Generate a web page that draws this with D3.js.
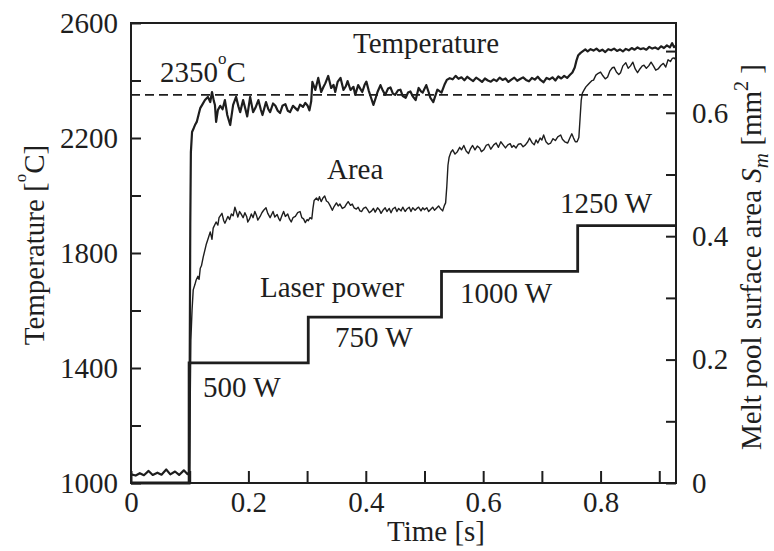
<!DOCTYPE html>
<html>
<head>
<meta charset="utf-8">
<script src="https://cdn.jsdelivr.net/npm/d3@7"></script>
<style>
  body { margin: 0; background: #fff; }
  svg { display: block; }
  text { font-family: "Liberation Serif", "Times New Roman", serif; fill: #1e1e1e; }
</style>
</head>
<body>
<svg id="chart"></svg>
<script>
// tick values
const timeTicks = [0, 0.1, 0.2, 0.3, 0.4, 0.5, 0.6, 0.7, 0.8, 0.9];
const tempTicks = [1000, 1200, 1400, 1600, 1800, 2000, 2200, 2400, 2600];
const areaTicks = [0, 0.1, 0.2, 0.3, 0.4, 0.5, 0.6, 0.7];

// measured temperature [s, degC]
const temperature = [
  [0, 1030], [0.008, 1026], [0.015, 1034], [0.022, 1027], [0.03, 1042], [0.037, 1028], [0.045, 1036],
  [0.052, 1029], [0.06, 1047], [0.067, 1030], [0.075, 1040], [0.082, 1028], [0.09, 1044], [0.096, 1031],
  [0.099, 1036], [0.1, 1400], [0.101, 1900], [0.102, 2150], [0.104, 2221], [0.107, 2235], [0.109, 2245],
  [0.112, 2256], [0.115, 2280], [0.118, 2304], [0.122, 2318], [0.126, 2332], [0.131, 2343], [0.135, 2325],
  [0.138, 2360], [0.141, 2330], [0.143, 2315], [0.145, 2256], [0.148, 2297], [0.152, 2312], [0.156, 2300],
  [0.16, 2332], [0.164, 2280], [0.169, 2245], [0.174, 2315], [0.179, 2343], [0.183, 2310], [0.186, 2290],
  [0.191, 2332], [0.195, 2300], [0.198, 2275], [0.203, 2343], [0.208, 2290], [0.212, 2305], [0.217, 2332],
  [0.221, 2300], [0.224, 2280], [0.23, 2325], [0.234, 2300], [0.237, 2290], [0.242, 2320], [0.246, 2312],
  [0.25, 2295], [0.254, 2287], [0.258, 2312], [0.263, 2318], [0.267, 2295], [0.271, 2290], [0.276, 2312],
  [0.28, 2304], [0.284, 2296], [0.288, 2316], [0.293, 2308], [0.297, 2322], [0.301, 2312], [0.304, 2296],
  [0.307, 2328], [0.309, 2395], [0.314, 2367], [0.319, 2409], [0.324, 2360], [0.328, 2378], [0.331, 2390],
  [0.336, 2416], [0.341, 2374], [0.345, 2385], [0.348, 2360], [0.352, 2395], [0.357, 2409], [0.362, 2367],
  [0.366, 2380], [0.369, 2398], [0.374, 2367], [0.379, 2378], [0.382, 2350], [0.387, 2384], [0.391, 2370],
  [0.394, 2360], [0.398, 2385], [0.401, 2396], [0.405, 2365], [0.408, 2346], [0.413, 2315], [0.417, 2340],
  [0.42, 2360], [0.425, 2384], [0.429, 2365], [0.433, 2350], [0.438, 2372], [0.442, 2376], [0.446, 2355],
  [0.45, 2350], [0.455, 2366], [0.459, 2368], [0.463, 2346], [0.468, 2340], [0.472, 2358], [0.476, 2362],
  [0.48, 2345], [0.485, 2332], [0.49, 2374], [0.494, 2362], [0.497, 2358], [0.503, 2384], [0.507, 2360],
  [0.51, 2340], [0.515, 2325], [0.519, 2350], [0.522, 2368], [0.526, 2362], [0.529, 2358], [0.534, 2385],
  [0.538, 2402], [0.543, 2408], [0.548, 2404], [0.553, 2416], [0.558, 2406], [0.563, 2411], [0.568, 2401],
  [0.573, 2413], [0.578, 2405], [0.583, 2398], [0.588, 2410], [0.593, 2403], [0.598, 2395], [0.603, 2407],
  [0.608, 2400], [0.613, 2396], [0.618, 2404], [0.623, 2398], [0.628, 2410], [0.633, 2402], [0.638, 2407],
  [0.643, 2395], [0.648, 2403], [0.653, 2410], [0.658, 2399], [0.663, 2405], [0.668, 2411], [0.673, 2402],
  [0.678, 2397], [0.683, 2409], [0.688, 2403], [0.693, 2413], [0.698, 2401], [0.703, 2394], [0.708, 2409],
  [0.713, 2404], [0.718, 2411], [0.723, 2400], [0.728, 2414], [0.733, 2407], [0.738, 2416], [0.743, 2409],
  [0.748, 2420], [0.752, 2428], [0.756, 2445], [0.759, 2470], [0.762, 2488], [0.766, 2496], [0.77, 2502],
  [0.774, 2508], [0.778, 2501], [0.783, 2509], [0.788, 2504], [0.793, 2511], [0.798, 2502], [0.803, 2507],
  [0.808, 2499], [0.813, 2509], [0.818, 2505], [0.823, 2511], [0.828, 2503], [0.833, 2508], [0.838, 2501],
  [0.843, 2510], [0.848, 2505], [0.853, 2513], [0.858, 2507], [0.863, 2515], [0.868, 2509], [0.873, 2512],
  [0.878, 2507], [0.883, 2517], [0.888, 2511], [0.893, 2515], [0.898, 2509], [0.903, 2519], [0.908, 2513],
  [0.913, 2522], [0.918, 2515], [0.922, 2530], [0.925, 2516], [0.9285, 2521],
];

// melt pool surface area [s, mm2]
const area = [
  [0, 0], [0.0995, 0], [0.1005, 0.1], [0.102, 0.232], [0.104, 0.28], [0.106, 0.313], [0.109, 0.322],
  [0.111, 0.329], [0.114, 0.335], [0.116, 0.33], [0.118, 0.348], [0.12, 0.352], [0.123, 0.366],
  [0.128, 0.386], [0.132, 0.398], [0.135, 0.407], [0.138, 0.395], [0.14, 0.413], [0.145, 0.423],
  [0.148, 0.418], [0.15, 0.43], [0.155, 0.437], [0.158, 0.425], [0.16, 0.421], [0.165, 0.432],
  [0.168, 0.427], [0.171, 0.436], [0.174, 0.433], [0.177, 0.447], [0.18, 0.438], [0.182, 0.431],
  [0.185, 0.44], [0.187, 0.437], [0.191, 0.43], [0.194, 0.438], [0.197, 0.432], [0.199, 0.423],
  [0.202, 0.428], [0.205, 0.436], [0.208, 0.43], [0.211, 0.44], [0.214, 0.433], [0.216, 0.426],
  [0.22, 0.432], [0.223, 0.438], [0.226, 0.442], [0.23, 0.446], [0.233, 0.437], [0.237, 0.43],
  [0.24, 0.436], [0.242, 0.44], [0.245, 0.431], [0.249, 0.435], [0.252, 0.428], [0.254, 0.425],
  [0.257, 0.433], [0.26, 0.44], [0.263, 0.432], [0.267, 0.436], [0.27, 0.428], [0.273, 0.423],
  [0.276, 0.43], [0.28, 0.432], [0.284, 0.438], [0.288, 0.44], [0.291, 0.43], [0.294, 0.428],
  [0.297, 0.422], [0.3, 0.427], [0.302, 0.425], [0.305, 0.43], [0.308, 0.428], [0.31, 0.445],
  [0.312, 0.458], [0.316, 0.462], [0.319, 0.458], [0.321, 0.464], [0.324, 0.456], [0.327, 0.462],
  [0.33, 0.465], [0.333, 0.457], [0.336, 0.455], [0.339, 0.45], [0.343, 0.442], [0.346, 0.448],
  [0.35, 0.454], [0.353, 0.449], [0.356, 0.452], [0.36, 0.445], [0.364, 0.447], [0.367, 0.452],
  [0.37, 0.456], [0.374, 0.45], [0.377, 0.452], [0.38, 0.446], [0.384, 0.444], [0.387, 0.447],
  [0.39, 0.441], [0.393, 0.44], [0.396, 0.445], [0.4, 0.447], [0.403, 0.443], [0.406, 0.438],
  [0.41, 0.441], [0.413, 0.445], [0.416, 0.439], [0.42, 0.446], [0.423, 0.443], [0.426, 0.437],
  [0.43, 0.443], [0.433, 0.446], [0.436, 0.44], [0.44, 0.445], [0.443, 0.438], [0.446, 0.444],
  [0.45, 0.447], [0.453, 0.44], [0.456, 0.445], [0.46, 0.441], [0.463, 0.447], [0.467, 0.44],
  [0.47, 0.444], [0.474, 0.447], [0.477, 0.44], [0.48, 0.446], [0.484, 0.442], [0.487, 0.445],
  [0.49, 0.447], [0.494, 0.441], [0.497, 0.446], [0.5, 0.443], [0.504, 0.446], [0.507, 0.44],
  [0.51, 0.443], [0.514, 0.447], [0.517, 0.442], [0.52, 0.445], [0.524, 0.449], [0.527, 0.445],
  [0.531, 0.441], [0.534, 0.45], [0.536, 0.454], [0.538, 0.48], [0.54, 0.515], [0.542, 0.528],
  [0.545, 0.536], [0.548, 0.54], [0.552, 0.533], [0.556, 0.537], [0.56, 0.544], [0.563, 0.54],
  [0.567, 0.547], [0.571, 0.538], [0.575, 0.534], [0.578, 0.541], [0.582, 0.547], [0.586, 0.54],
  [0.59, 0.546], [0.594, 0.543], [0.597, 0.537], [0.601, 0.54], [0.605, 0.547], [0.609, 0.549],
  [0.613, 0.541], [0.618, 0.548], [0.622, 0.551], [0.626, 0.544], [0.63, 0.553], [0.634, 0.548],
  [0.638, 0.543], [0.642, 0.548], [0.646, 0.55], [0.649, 0.544], [0.652, 0.547], [0.656, 0.543],
  [0.66, 0.549], [0.664, 0.55], [0.668, 0.545], [0.672, 0.548], [0.676, 0.553], [0.679, 0.559],
  [0.683, 0.552], [0.687, 0.548], [0.69, 0.556], [0.693, 0.551], [0.697, 0.559], [0.7, 0.556],
  [0.703, 0.564], [0.707, 0.553], [0.711, 0.549], [0.715, 0.551], [0.719, 0.558], [0.723, 0.555],
  [0.727, 0.561], [0.732, 0.564], [0.735, 0.557], [0.739, 0.553], [0.744, 0.551], [0.748, 0.56],
  [0.751, 0.566], [0.754, 0.559], [0.757, 0.553], [0.76, 0.553], [0.763, 0.56], [0.765, 0.59],
  [0.767, 0.62], [0.769, 0.632], [0.772, 0.637], [0.775, 0.642], [0.778, 0.645], [0.782, 0.649],
  [0.785, 0.652], [0.788, 0.653], [0.792, 0.661], [0.796, 0.664], [0.8, 0.666], [0.804, 0.66],
  [0.808, 0.655], [0.812, 0.658], [0.816, 0.668], [0.82, 0.673], [0.823, 0.674], [0.827, 0.666],
  [0.831, 0.662], [0.834, 0.665], [0.838, 0.676], [0.843, 0.681], [0.847, 0.672], [0.851, 0.676],
  [0.855, 0.682], [0.859, 0.671], [0.863, 0.665], [0.867, 0.671], [0.871, 0.676], [0.874, 0.677],
  [0.878, 0.672], [0.882, 0.676], [0.886, 0.682], [0.89, 0.676], [0.894, 0.669], [0.898, 0.671],
  [0.903, 0.677], [0.907, 0.68], [0.911, 0.674], [0.915, 0.686], [0.919, 0.683], [0.922, 0.688],
  [0.925, 0.689], [0.9285, 0.686],
];

// laser power steps [s, W]
const laserPower = [
  [0, 0], [0.099, 0], [0.099, 500], [0.302, 500], [0.302, 750], [0.529, 750],
  [0.529, 1000], [0.761, 1000], [0.761, 1250], [0.9285, 1250],
];
const powerLabels = ["Laser power", "500 W", "750 W", "1000 W", "1250 W"];
const refTemp = 2350;

const margin = { top: 23, right: 98, bottom: 68, left: 131 };
const width = 774;
const height = 551;
const bodyWidth = width - (margin.left + margin.right);
const bodyHeight = height - (margin.top + margin.bottom);
const fontSize = 29;
const serif = '"Liberation Serif", "Times New Roman", serif';

const xScale = d3.scaleLinear().domain([0, 0.9285]).range([0, bodyWidth]);
const yTemp = d3.scaleLinear().domain([1000, 2600]).range([bodyHeight, 0]);
const yArea = d3.scaleLinear().domain([0, 0.7455]).range([bodyHeight, 0]);
// power has no axis of its own: it sits on a temperature-equivalent scale
const yPower = d3.scaleLinear().domain([0, 500, 1250]).range([yTemp(1000), yTemp(1418), yTemp(1895)]);

const svg = d3.select("#chart").attr("width", width).attr("height", height);
const main = svg.append("g").attr("transform", `translate(${margin.left}, ${margin.top})`);

const fmt = d3.format("~g");
const everyOther = (d, i) => (i % 2 ? "" : fmt(d));

const styleAxis = (g) => {
  g.attr("font-family", serif);
  g.select(".domain").remove();
  g.selectAll(".tick line").attr("stroke", "#1e1e1e").attr("stroke-width", 2);
  g.selectAll(".tick text").attr("font-size", fontSize).attr("fill", "#1e1e1e");
};

// x-axis
main.append("g")
  .attr("transform", `translate(0, ${bodyHeight})`)
  .call(d3.axisBottom(xScale).tickValues(timeTicks).tickSize(-12).tickSizeOuter(0).tickPadding(8).tickFormat(everyOther))
  .call(styleAxis);

// left axis
main.append("g")
  .call(d3.axisLeft(yTemp).tickValues(tempTicks).tickSize(-10).tickSizeOuter(0).tickPadding(13).tickFormat(everyOther))
  .call(styleAxis);

// right axis
main.append("g")
  .attr("transform", `translate(${bodyWidth}, 0)`)
  .call(d3.axisRight(yArea).tickValues(areaTicks).tickSize(-10).tickSizeOuter(0).tickPadding(16).tickFormat(everyOther))
  .call(styleAxis);

main.append("rect")
  .attr("width", bodyWidth)
  .attr("height", bodyHeight)
  .attr("fill", "none")
  .attr("stroke", "#1e1e1e")
  .attr("stroke-width", 2);

// reference temperature
main.append("line")
  .attr("x1", xScale(0)).attr("x2", xScale(0.922))
  .attr("y1", yTemp(refTemp)).attr("y2", yTemp(refTemp))
  .attr("stroke", "#1e1e1e").attr("stroke-width", 1.6)
  .attr("stroke-dasharray", "9,5");

const laserLine = d3.line().x((d) => xScale(d[0])).y((d) => yPower(d[1]));
const areaLine = d3.line().x((d) => xScale(d[0])).y((d) => yArea(d[1]));
const tempLine = d3.line().x((d) => xScale(d[0])).y((d) => yTemp(d[1]));

main.append("path").datum(laserPower)
  .attr("d", laserLine).attr("fill", "none")
  .attr("stroke", "#1e1e1e").attr("stroke-width", 2.8);

main.append("path").datum(area)
  .attr("d", areaLine).attr("fill", "none")
  .attr("stroke", "#1e1e1e").attr("stroke-width", 1.4)
  .attr("stroke-linejoin", "round");

main.append("path").datum(temperature)
  .attr("d", tempLine).attr("fill", "none")
  .attr("stroke", "#1e1e1e").attr("stroke-width", 2.2)
  .attr("stroke-linejoin", "round");

// annotations
const note = (x, y, txt) =>
  main.append("text").attr("x", x).attr("y", y).attr("font-size", fontSize).text(txt);

note(222, 30, "Temperature");
note(196, 156, "Area");
note(129, 274, powerLabels[0]);
note(72, 374, powerLabels[1]);
note(204, 324, powerLabels[2]);
note(329, 280, powerLabels[3]);
note(429, 190, powerLabels[4]);

const ref = main.append("text").attr("x", 29).attr("y", 59).attr("font-size", fontSize);
ref.append("tspan").text(refTemp);
ref.append("tspan").attr("dy", -18).attr("font-size", 17).text("o");
ref.append("tspan").attr("dy", 18).text("C");

// axis titles
svg.append("text")
  .attr("x", margin.left + 305).attr("y", 541)
  .attr("text-anchor", "middle").attr("font-size", fontSize)
  .text("Time [s]");

const leftTitle = svg.append("text")
  .attr("transform", "translate(44, 245) rotate(-90)")
  .attr("text-anchor", "middle").attr("font-size", fontSize);
leftTitle.append("tspan").text("Temperature [");
leftTitle.append("tspan").attr("dy", -18).attr("font-size", 17).text("o");
leftTitle.append("tspan").attr("dy", 18).text("C]");

const rightTitle = svg.append("text")
  .attr("transform", "translate(761, 257) rotate(-90)")
  .attr("text-anchor", "middle").attr("font-size", fontSize);
rightTitle.append("tspan").text("Melt pool surface area ");
rightTitle.append("tspan").attr("font-style", "italic").text("S");
rightTitle.append("tspan").attr("font-style", "italic").attr("font-size", 21).attr("dy", 7).text("m");
rightTitle.append("tspan").attr("dy", -7).text(" [mm");
rightTitle.append("tspan").attr("font-size", 20).attr("dy", -13).text("2");
rightTitle.append("tspan").attr("dy", 13).text(" ]");
</script>
</body>
</html>
